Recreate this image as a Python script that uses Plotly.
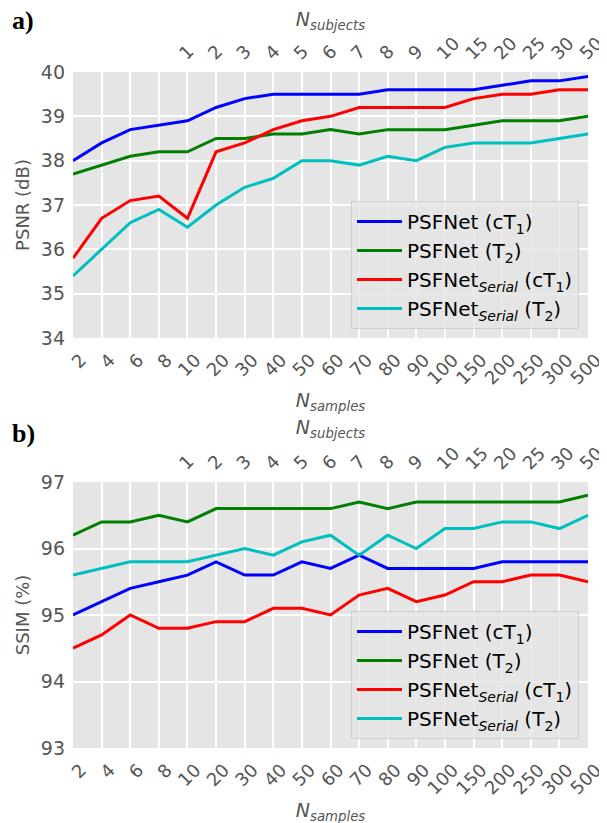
import plotly.graph_objects as go

samples = ["2", "4", "6", "8", "10", "20", "30", "40", "50", "60", "70", "80", "90",
           "100", "150", "200", "250", "300", "500"]
subject_samples = ["10", "20", "30", "40", "50", "60", "70", "80", "90", "100",
                   "150", "200", "250", "300", "500"]
subjects = ["1", "2", "3", "4", "5", "6", "7", "8", "9", "10", "15", "20", "25", "30", "50"]

psnr_psfnet_ct1 = [38.0, 38.4, 38.7, 38.8, 38.9, 39.2, 39.4, 39.5, 39.5, 39.5, 39.5, 39.6, 39.6, 39.6, 39.6, 39.7, 39.8, 39.8, 39.9]
psnr_psfnet_t2 = [37.7, 37.9, 38.1, 38.2, 38.2, 38.5, 38.5, 38.6, 38.6, 38.7, 38.6, 38.7, 38.7, 38.7, 38.8, 38.9, 38.9, 38.9, 39.0]
psnr_serial_ct1 = [35.8, 36.7, 37.1, 37.2, 36.7, 38.2, 38.4, 38.7, 38.9, 39.0, 39.2, 39.2, 39.2, 39.2, 39.4, 39.5, 39.5, 39.6, 39.6]
psnr_serial_t2 = [35.4, 36.0, 36.6, 36.9, 36.5, 37.0, 37.4, 37.6, 38.0, 38.0, 37.9, 38.1, 38.0, 38.3, 38.4, 38.4, 38.4, 38.5, 38.6]

ssim_psfnet_ct1 = [95.0, 95.2, 95.4, 95.5, 95.6, 95.8, 95.6, 95.6, 95.8, 95.7, 95.9, 95.7, 95.7, 95.7, 95.7, 95.8, 95.8, 95.8, 95.8]
ssim_psfnet_t2 = [96.2, 96.4, 96.4, 96.5, 96.4, 96.6, 96.6, 96.6, 96.6, 96.6, 96.7, 96.6, 96.7, 96.7, 96.7, 96.7, 96.7, 96.7, 96.8]
ssim_serial_ct1 = [94.5, 94.7, 95.0, 94.8, 94.8, 94.9, 94.9, 95.1, 95.1, 95.0, 95.3, 95.4, 95.2, 95.3, 95.5, 95.5, 95.6, 95.6, 95.5]
ssim_serial_t2 = [95.6, 95.7, 95.8, 95.8, 95.8, 95.9, 96.0, 95.9, 96.1, 96.2, 95.9, 96.2, 96.0, 96.3, 96.3, 96.4, 96.4, 96.3, 96.5]

names = ["PSFNet (cT<sub>1</sub>)", "PSFNet (T<sub>2</sub>)",
         "PSFNet<sub><i>Serial</i></sub> (cT<sub>1</sub>)", "PSFNet<sub><i>Serial</i></sub> (T<sub>2</sub>)"]
colors = ["#0000ff", "#008000", "#ff0000", "#00bfbf"]

FONT = "DejaVu Sans"
GRAY = "#555555"

fig = go.Figure()

panels = [
    ([psnr_psfnet_ct1, psnr_psfnet_t2, psnr_serial_ct1, psnr_serial_t2], "x", "y", "legend"),
    ([ssim_psfnet_ct1, ssim_psfnet_t2, ssim_serial_ct1, ssim_serial_t2], "x2", "y2", "legend2"),
]
for series, xa, ya, lg in panels:
    for vals, name, col in zip(series, names, colors):
        fig.add_trace(go.Scatter(x=samples, y=vals, mode="lines", name=name,
                                 line=dict(color=col, width=3), xaxis=xa, yaxis=ya,
                                 legend=lg))

# invisible traces to populate the top (subjects) category axes
fig.add_trace(go.Scatter(x=samples, y=psnr_psfnet_ct1, mode="lines", xaxis="x3", yaxis="y",
                         line=dict(width=0), opacity=0, showlegend=False, hoverinfo="skip"))
fig.add_trace(go.Scatter(x=samples, y=ssim_psfnet_ct1, mode="lines", xaxis="x4", yaxis="y2",
                         line=dict(width=0), opacity=0, showlegend=False, hoverinfo="skip"))

# the page body adds an 8px offset; coordinates below are in target-picture pixels
OFF = 8
W, H = 607, 823
L, R, T, B = 73 - OFF, W - (588 - OFF), 72 - OFF, H - (748 - OFF)
plot_w = W - L - R
plot_h = H - T - B


def px_y(py):
    return (H - B - (py - OFF)) / plot_h


def px_x(px):
    return (px - OFF - L) / plot_w


da = [px_y(338), 1.0]
db = [0.0, px_y(482)]

xcommon = dict(type="category", categoryorder="array", categoryarray=samples,
               range=[0, len(samples) - 1], showgrid=True, gridcolor="white", gridwidth=1.5,
               zeroline=False, showline=False, ticks="", tickangle=-45, automargin=False,
               tickfont=dict(family=FONT, size=18, color=GRAY))
ycommon = dict(showgrid=True, gridcolor="white", gridwidth=1.5, zeroline=False, showline=False,
               ticks="", tickfont=dict(family=FONT, size=19, color=GRAY), dtick=1,
               automargin=False, ticklabelstandoff=7)

title_font = dict(family=FONT, size=19, color=GRAY)
title_bottom = dict(text="<i>N</i><sub><i>samples</i></sub>", font=title_font, standoff=6)
title_top = dict(text="<i>N</i><sub><i>subjects</i></sub>", font=title_font, standoff=2)

leg_common = dict(xanchor="right", yanchor="bottom",
                  bgcolor="rgba(229,229,229,0.8)", bordercolor="#d0d0d0", borderwidth=1,
                  font=dict(family=FONT, size=20, color="black"), tracegroupgap=0, itemwidth=45)

fig.update_layout(
    width=W, height=H,
    margin=dict(l=L, r=R, t=T, b=B),
    paper_bgcolor="white", plot_bgcolor="#e5e5e5",
    xaxis=dict(**xcommon, anchor="y", domain=[0, 1], title=title_bottom,
               ticklabelshift=8, ticklabelstandoff=7),
    yaxis=dict(**ycommon, domain=da, range=[34, 40], anchor="x",
               title=dict(text="PSNR (dB)", font=dict(family=FONT, size=18, color=GRAY), standoff=6)),
    xaxis2=dict(**xcommon, anchor="y2", domain=[0, 1], title=title_bottom,
                ticklabelshift=8, ticklabelstandoff=7),
    yaxis2=dict(**ycommon, domain=db, range=[93, 97], anchor="x2",
                title=dict(text="SSIM (%)", font=dict(family=FONT, size=18, color=GRAY), standoff=6)),
    xaxis3=dict(**{**xcommon, "showgrid": False}, overlaying="x", side="top", anchor="y",
                tickvals=subject_samples, ticktext=subjects, title=title_top,
                ticklabelshift=-7, ticklabelstandoff=4),
    xaxis4=dict(**{**xcommon, "showgrid": False}, overlaying="x2", side="top", anchor="y2",
                tickvals=subject_samples, ticktext=subjects, title=title_top,
                ticklabelshift=-7, ticklabelstandoff=4),
    legend=dict(x=px_x(579), y=px_y(329), **leg_common),
    legend2=dict(x=px_x(579), y=px_y(739), **leg_common),
)

ann = []
for lbl, py in (("a)", 21), ("b)", 433)):
    ann.append(dict(text=f"<b>{lbl}</b>", x=px_x(23), y=px_y(py),
                    xref="paper", yref="paper", showarrow=False, xanchor="center", yanchor="middle",
                    font=dict(family="Liberation Serif", size=26, color="black")))
fig.update_layout(annotations=ann)

fig.write_html("out.html")
